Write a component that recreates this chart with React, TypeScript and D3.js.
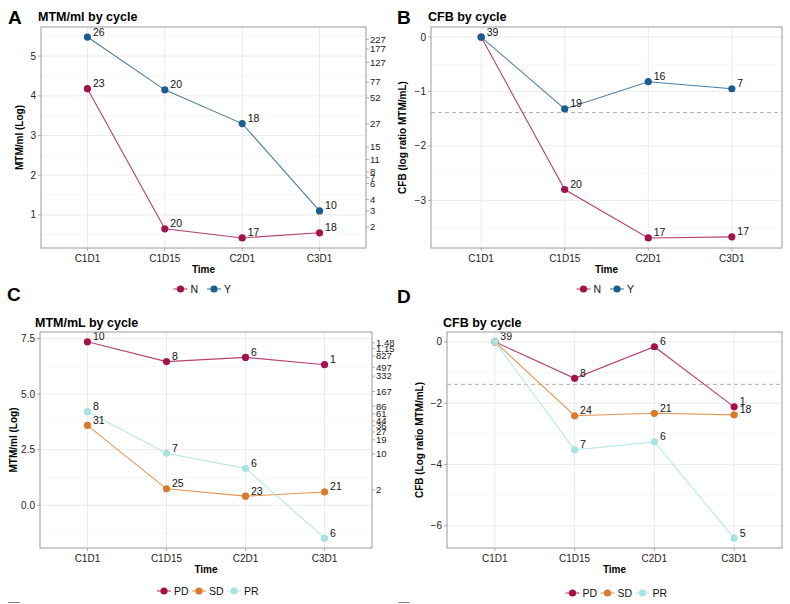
import React from "react";
import * as d3 from "d3";

const categories = ["C1D1", "C1D15", "C2D1", "C3D1"];

// Panel A: MTM/ml (log) by cycle, response N / Y
const aN = [4.18, 0.65, 0.42, 0.55];
const aY = [5.48, 4.15, 3.3, 1.1];
const aNCounts = [23, 20, 17, 18];
const aYCounts = [26, 20, 18, 10];
const aYTicks = [1, 2, 3, 4, 5];
const aRightLabels = [227, 177, 127, 77, 52, 27, 15, 11, 8, 7, 6, 4, 3, 2];

// Panel B: CFB by cycle, N / Y
const bN = [0, -2.8, -3.69, -3.67];
const bY = [0, -1.32, -0.82, -0.95];
const bNCounts = [null, 20, 17, 17];
const bYCounts = [39, 19, 16, 7];
const bYTicks = [0, -1, -2, -3];

// Panel C: MTM/mL (log) by cycle, PD / SD / PR
const cPD = [7.35, 6.46, 6.65, 6.32];
const cSD = [3.59, 0.74, 0.41, 0.6];
const cPR = [4.21, 2.34, 1.66, -1.48];
const cPDCounts = [10, 8, 6, 1];
const cSDCounts = [31, 25, 23, 21];
const cPRCounts = [8, 7, 6, 6];
const cYTicks = [0, 2.5, 5, 7.5];
const cRightLabels = [1487, 1157, 827, 497, 332, 167, 86, 61, 44, 36, 27, 19, 10, 2];

// Panel D: CFB by cycle, PD / SD / PR
const dPD = [0, -1.19, -0.16, -2.12];
const dSD = [0, -2.41, -2.33, -2.38];
const dPR = [0, -3.52, -3.26, -6.4];
const dPDCounts = [null, 8, 6, 1];
const dSDCounts = [null, 24, 21, 18];
const dPRCounts = [39, 7, 6, 5];
const dYTicks = [0, -2, -4, -6];

const thresholdRatio = 0.25;

const COL_N = "#A3124A";
const COL_Y = "#1B5D8C";
const COL_PD = "#A3124A";
const COL_SD = "#D97A2A";
const COL_PR = "#A8E2E2";

const FONT = "'Liberation Sans', Arial, Helvetica, sans-serif";

type Series = { name: string; color: string; values: number[]; counts: (number | null)[] };

type PanelProps = {
  letter: string;
  letterPos: [number, number];
  title: string;
  titleX: number;
  titleY: number;
  box: { x0: number; x1: number; y0: number; y1: number };
  series: Series[];
  yTicks: number[];
  tickFmt: (v: number) => string;
  yTitle: string;
  yTitleX: number;
  rightLabels?: number[];
  hline?: number;
  legendY: number;
  legendStep: number;
  clipId: string;
};

function Panel(p: PanelProps) {
  const { box } = p;
  const all = p.series.flatMap((s) => s.values);
  const [mn, mx] = d3.extent(all) as [number, number];
  const pad = (mx - mn) * 0.05;
  const y = d3.scaleLinear().domain([mn - pad, mx + pad]).range([box.y1, box.y0]);
  const x = d3.scalePoint<string>().domain(categories).range([box.x0, box.x1]).padding(0.6);
  const majorStep = Math.abs(p.yTicks[1] - p.yTicks[0]);
  const lo = Math.min(...p.yTicks) - majorStep * 3;
  const minor: number[] = [];
  for (let k = 0; k < 20; k++) {
    const v = lo + majorStep / 2 + k * majorStep;
    if (v > y.domain()[0] && v < y.domain()[1]) minor.push(v);
  }
  const line = d3
    .line<number>()
    .x((_, i) => x(categories[i]) as number)
    .y((v) => y(v));
  const legendW = p.legendStep * p.series.length;
  const legendX0 = (box.x0 + box.x1) / 2 - legendW / 2 + 2;
  const midY = (box.y0 + box.y1) / 2;
  return (
    <g clipPath={`url(#${p.clipId})`}>
      <text x={p.letterPos[0]} y={p.letterPos[1]} fontSize={19} fontWeight="bold" fontFamily={FONT} fill="#000">
        {p.letter}
      </text>
      <text x={p.titleX} y={p.titleY} fontSize={12.5} fontWeight="bold" fontFamily={FONT} fill="#000">
        {p.title}
      </text>
      {/* grid */}
      {minor.map((v) => (
        <line key={"mi" + v} x1={box.x0} x2={box.x1} y1={y(v)} y2={y(v)} stroke="#F1F1F1" strokeWidth={0.6} />
      ))}
      {p.yTicks.map((v) => (
        <line key={"ma" + v} x1={box.x0} x2={box.x1} y1={y(v)} y2={y(v)} stroke="#E6E6E6" strokeWidth={0.8} />
      ))}
      {categories.map((c) => (
        <line key={"vx" + c} x1={x(c)} x2={x(c)} y1={box.y0} y2={box.y1} stroke="#E6E6E6" strokeWidth={0.8} />
      ))}
      {p.hline !== undefined && (
        <line x1={box.x0} x2={box.x1} y1={y(p.hline)} y2={y(p.hline)} stroke="#AAAAAA" strokeWidth={0.9} strokeDasharray="4,3" />
      )}
      {/* series */}
      {p.series.map((s) => (
        <g key={s.name}>
          <path d={line(s.values) || ""} fill="none" stroke={s.color} strokeOpacity={0.8} strokeWidth={1.1} />
          {s.values.map((v, i) => (
            <circle key={i} cx={x(categories[i])} cy={y(v)} r={3.6} fill={s.color} />
          ))}
        </g>
      ))}
      {p.series.map((s) =>
        s.values.map((v, i) =>
          s.counts[i] === null ? null : (
            <text key={s.name + "l" + i} x={(x(categories[i]) as number) + 5.5} y={y(v) - 1.5} fontSize={10.5} fontFamily={FONT} fill="#111">
              {s.counts[i]}
            </text>
          )
        )
      )}
      {/* border */}
      <rect x={box.x0} y={box.y0} width={box.x1 - box.x0} height={box.y1 - box.y0} fill="none" stroke="#9A9A9A" strokeWidth={1} />
      {/* y axis */}
      {p.yTicks.map((v) => (
        <g key={"yt" + v}>
          <line x1={box.x0 - 3} x2={box.x0} y1={y(v)} y2={y(v)} stroke="#9A9A9A" strokeWidth={0.8} />
          <text x={box.x0 - 5} y={y(v) + 3.5} fontSize={10} textAnchor="end" fontFamily={FONT} fill="#222">
            {p.tickFmt(v)}
          </text>
        </g>
      ))}
      <text
        transform={`translate(${p.yTitleX},${midY}) rotate(-90)`}
        fontSize={10}
        fontWeight="bold"
        textAnchor="middle"
        fontFamily={FONT}
        fill="#000"
      >
        {p.yTitle}
      </text>
      {/* right axis */}
      {p.rightLabels &&
        p.rightLabels.map((v) => (
          <g key={"rt" + v}>
            <line x1={box.x1} x2={box.x1 + 3} y1={y(Math.log(v))} y2={y(Math.log(v))} stroke="#9A9A9A" strokeWidth={0.8} />
            <text x={box.x1 + 4} y={y(Math.log(v)) + 3.3} fontSize={9.5} fontFamily={FONT} fill="#222">
              {d3.format(",")(v)}
            </text>
          </g>
        ))}
      {/* x axis */}
      {categories.map((c) => (
        <g key={"xt" + c}>
          <line x1={x(c)} x2={x(c)} y1={box.y1} y2={box.y1 + 3} stroke="#9A9A9A" strokeWidth={0.8} />
          <text x={x(c)} y={box.y1 + 14} fontSize={10} textAnchor="middle" fontFamily={FONT} fill="#222">
            {c}
          </text>
        </g>
      ))}
      <text x={(box.x0 + box.x1) / 2} y={box.y1 + 25} fontSize={10} fontWeight="bold" textAnchor="middle" fontFamily={FONT} fill="#000">
        Time
      </text>
      {/* legend */}
      {p.series.map((s, i) => {
        const cx = legendX0 + i * p.legendStep + 8.5;
        return (
          <g key={"lg" + s.name}>
            <line x1={cx - 7} x2={cx + 7} y1={p.legendY} y2={p.legendY} stroke={s.color} strokeOpacity={0.8} strokeWidth={1.1} />
            <circle cx={cx} cy={p.legendY} r={3.6} fill={s.color} />
            <text x={cx + 10} y={p.legendY + 3.6} fontSize={10.5} fontFamily={FONT} fill="#111">
              {s.name}
            </text>
          </g>
        );
      })}
    </g>
  );
}

const fmtInt = (v: number) => d3.format("d")(v).replace("-", "\u2212");
const fmt1 = (v: number) => d3.format(".1f")(v).replace("-", "\u2212");

export default function App() {
  const hl = Math.log(thresholdRatio);
  return (
    <svg width={790} height={604} style={{ position: "absolute", left: 0, top: 0, background: "#fff" }}>
      <defs>
        <clipPath id="clipA"><rect x={0} y={0} width={395} height={300} /></clipPath>
        <clipPath id="clipB"><rect x={395} y={0} width={395} height={300} /></clipPath>
        <clipPath id="clipC"><rect x={0} y={280} width={395} height={324} /></clipPath>
        <clipPath id="clipD"><rect x={395} y={280} width={395} height={324} /></clipPath>
      </defs>
      <rect x={0} y={0} width={790} height={604} fill="#fff" />
      <Panel
        letter="A"
        letterPos={[8, 24]}
        title="MTM/ml by cycle"
        titleX={38}
        titleY={21}
        box={{ x0: 41, x1: 366, y0: 27, y1: 248 }}
        series={[
          { name: "N", color: COL_N, values: aN, counts: aNCounts },
          { name: "Y", color: COL_Y, values: aY, counts: aYCounts },
        ]}
        yTicks={aYTicks}
        tickFmt={fmtInt}
        yTitle="MTM/ml (Log)"
        yTitleX={23}
        rightLabels={aRightLabels}
        legendY={289}
        legendStep={33.5}
        clipId="clipA"
      />
      <Panel
        letter="B"
        letterPos={[397, 24]}
        title="CFB by cycle"
        titleX={428}
        titleY={21}
        box={{ x0: 431, x1: 782, y0: 27, y1: 248 }}
        series={[
          { name: "N", color: COL_N, values: bN, counts: bNCounts },
          { name: "Y", color: COL_Y, values: bY, counts: bYCounts },
        ]}
        yTicks={bYTicks}
        tickFmt={fmtInt}
        yTitle="CFB (log ratio MTM/mL)"
        yTitleX={406}
        hline={hl}
        legendY={289}
        legendStep={33.5}
        clipId="clipB"
      />
      <Panel
        letter="C"
        letterPos={[7, 301]}
        title="MTM/mL by cycle"
        titleX={35}
        titleY={327}
        box={{ x0: 40, x1: 372, y0: 332, y1: 548 }}
        series={[
          { name: "PD", color: COL_PD, values: cPD, counts: cPDCounts },
          { name: "SD", color: COL_SD, values: cSD, counts: cSDCounts },
          { name: "PR", color: COL_PR, values: cPR, counts: cPRCounts },
        ]}
        yTicks={cYTicks}
        tickFmt={fmt1}
        yTitle="MTM/ml (Log)"
        yTitleX={17}
        rightLabels={cRightLabels}
        legendY={591}
        legendStep={35}
        clipId="clipC"
      />
      <Panel
        letter="D"
        letterPos={[397, 303]}
        title="CFB by cycle"
        titleX={443}
        titleY={327}
        box={{ x0: 447, x1: 782, y0: 332, y1: 548 }}
        series={[
          { name: "PD", color: COL_PD, values: dPD, counts: dPDCounts },
          { name: "SD", color: COL_SD, values: dSD, counts: dSDCounts },
          { name: "PR", color: COL_PR, values: dPR, counts: dPRCounts },
        ]}
        yTicks={dYTicks}
        tickFmt={fmtInt}
        yTitle="CFB (Log ratio MTM/mL)"
        yTitleX={423}
        hline={hl}
        legendY={593}
        legendStep={35}
        clipId="clipD"
      />
      <line x1={8} x2={20} y1={602.5} y2={602.5} stroke="#888" strokeWidth={1} />
      <line x1={398} x2={410} y1={602.5} y2={602.5} stroke="#888" strokeWidth={1} />
    </svg>
  );
}
